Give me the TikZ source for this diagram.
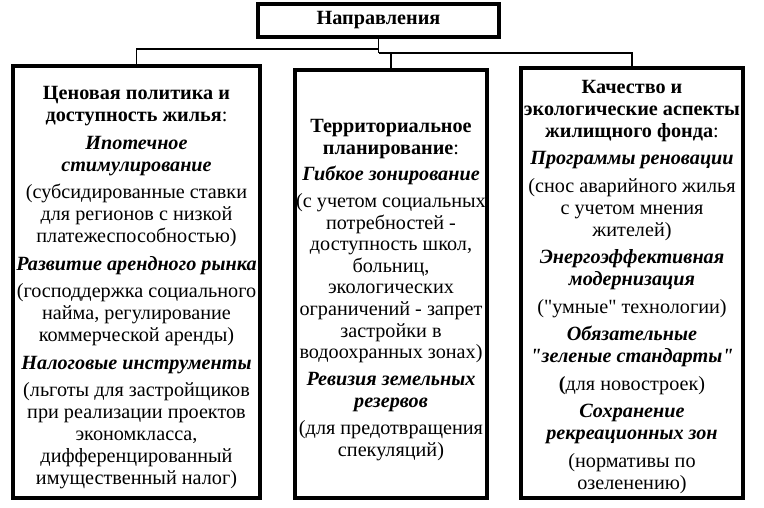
\documentclass[tikz,border=0pt]{standalone}
\usepackage{fontspec}
\setmainfont{Liberation Serif}
\newfontfamily\qtfont{Liberation Serif}
\usetikzlibrary{positioning}

\tikzset{
  colbox/.style={draw=black,line width=3.2pt,inner sep=0pt},
  coltext/.style={inner sep=0pt,align=center,font=\fontsize{20.2}{22}\selectfont},
  conn/.style={draw=black,line width=1.3pt},
}
\newcommand{\hd}[1]{{\bfseries #1}}
\newcommand{\kw}[1]{{\bfseries\itshape #1}}
\newcommand{\dq}{{\qtfont\char34}}

\begin{document}
\begin{tikzpicture}[x=1pt,y=-1pt]
\useasboundingbox (0,0) rectangle (764,508);
% top box
\node[colbox,minimum width=241pt,minimum height=33pt,font=\fontsize{20.2}{22}\selectfont] (dir) at (378.5,20.5) {\hd{Направления}};
% three columns
\node[colbox,minimum width=247pt,minimum height=432pt] (col0) at (136.5,282) {};
\node[coltext,yshift=-6pt] (txt0) at (col0.center) {%
\hd{Ценовая политика и}\\ \hd{доступность жилья}:\\[5.5pt]
\kw{Ипотечное}\\ \kw{стимулирование}\\[5.5pt]
(субсидированные ставки\\ для регионов с низкой\\ платежеспособностью)\\[5.5pt]
\kw{Развитие арендного рынка}\\[5.5pt]
(господдержка социального\\ найма, регулирование\\ коммерческой аренды)\\[5.5pt]
\kw{Налоговые инструменты}\\[5.5pt]
(льготы для застройщиков\\ при реализации проектов\\ экономкласса,\\ дифференцированный\\ имущественный налог)};
\node[colbox,minimum width=192pt,minimum height=428pt] (col1) at (391,284) {};
\node[coltext,yshift=-6pt,font=\fontsize{20.2}{21.6}\selectfont] (txt1) at (col1.center) {%
\hd{Территориальное}\\ \hd{планирование}:\\[4.5pt]
\kw{Гибкое зонирование}\\[5.5pt]
(с учетом социальных\\ потребностей -\\ доступность школ,\\ больниц,\\ экологических\\ ограничений - запрет\\ застройки в\\ водоохранных зонах)\\[5.5pt]
\kw{Ревизия земельных}\\ \kw{резервов}\\[5.5pt]
(для предотвращения\\ спекуляций)};
\node[colbox,minimum width=222pt,minimum height=430pt] (col2) at (632,283) {};
\node[coltext,yshift=-4pt] (txt2) at (col2.center) {%
\hd{Качество и}\\ \hd{экологические аспекты}\\ \hd{жилищного фонда}:\\[5.5pt]
\kw{Программы реновации}\\[5.5pt]
(снос аварийного жилья\\ с учетом мнения\\ жителей)\\[5.5pt]
\kw{Энергоэффективная}\\ \kw{модернизация}\\[5.5pt]
(\dq умные\dq\ технологии)\\[5.5pt]
\kw{Обязательные}\\ \kw{\dq зеленые стандарты\dq}\\[5.5pt]
{\bfseries (}для новостроек)\\[5.5pt]
\kw{Сохранение}\\ \kw{рекреационных зон}\\[5.5pt]
(нормативы по\\ озеленению)};
% connectors
\coordinate (jl) at (dir.south |- 0,49);
\coordinate (jr) at (dir.south |- 0,53);
\draw[conn] (dir.south) -- (jr);
\draw[conn] (jl) -| (col0.north);
\draw[conn] (jr) -| (col2.north);
\draw[conn] (col1.north |- jr) -- (col1.north);
\end{tikzpicture}
\end{document}
